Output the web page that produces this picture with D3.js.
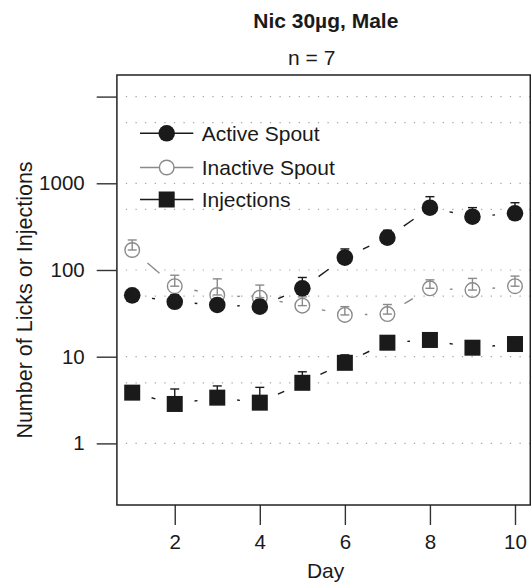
<!DOCTYPE html>
<html>
<head>
<meta charset="utf-8">
<script src="https://cdn.jsdelivr.net/npm/d3@7/dist/d3.min.js"></script>
<style>
  body { margin: 0; background: #fff; }
  text { font-family: "Liberation Sans", Arial, sans-serif; fill: #1a1a1a; }
</style>
</head>
<body>
<svg id="chart" width="531" height="585"></svg>
<script>
// data
var days = [1, 2, 3, 4, 5, 6, 7, 8, 9, 10];
var activeMean   = [51, 43, 39.5, 37.8, 61.5, 139, 236, 523, 412, 451];
var activeTop    = [null, 52, null, 45, 82, 175, 287, 701, 524, 597];
var inactiveMean = [170, 65, 51.5, 48, 38.8, 30.3, 31, 61.5, 58.7, 65];
var inactiveTop  = [222, 87, 79, 67, 49, 37.8, 40, 77, 80, 85];
var injMean      = [3.85, 2.85, 3.37, 2.95, 5.0, 8.5, 14.5, 15.6, 12.7, 14];
var injTop       = [null, 4.24, 4.6, 4.43, 6.7, 10.5, null, null, null, null];

var xTicks = [2, 4, 6, 8, 10];
var yTicks = [1, 10, 100, 1000, 10000];
var yTickLabels = ["1", "10", "100", "1000", ""];
var gridVals = [1, 5, 10, 50, 100, 500, 1000, 5000, 10000];
var legendNames = ["Active Spout", "Inactive Spout", "Injections"];

var black = "#1a1a1a", grey = "#8a8a8a";

var svg = d3.select("#chart");
// plot box (window.top is taken, so other names)
var boxL = 116.9, boxR = 530.3, boxT = 75, boxB = 505;

var x = d3.scaleLinear().domain([0.64, 10.36]).range([boxL, boxR]);
var y = d3.scaleLog().domain([Math.pow(10, -0.7105), Math.pow(10, 4.249)]).range([boxB, boxT]);

// dotted grid
svg.append("g").selectAll("line")
  .data(gridVals).enter().append("line")
  .attr("x1", boxL + 9).attr("x2", boxR)
  .attr("y1", function(d) { return y(d); })
  .attr("y2", function(d) { return y(d); })
  .attr("stroke", "#a0a0a0")
  .attr("stroke-width", 1.2)
  .attr("stroke-dasharray", "1.2,8.4");

// axes
var yAxis = d3.axisLeft(y).tickValues(yTicks)
  .tickFormat(function(d, i) { return yTickLabels[i]; })
  .tickSize(20).tickPadding(12);
var gy = svg.append("g").attr("transform", "translate(" + (boxL - 0.2) + ",0)").call(yAxis);
gy.select(".domain").remove();
gy.selectAll("line").attr("stroke", "#333").attr("stroke-width", 1.4);
gy.selectAll("text").attr("font-size", 20.5).attr("fill", black)
  .attr("font-family", "Liberation Sans, Arial, sans-serif");

var xAxis = d3.axisBottom(x).tickValues(xTicks).tickSize(20).tickPadding(9);
var gx = svg.append("g").attr("transform", "translate(0," + boxB + ")").call(xAxis);
gx.select(".domain").remove();
gx.selectAll("line").attr("stroke", "#333").attr("stroke-width", 1.4);
gx.selectAll("text").attr("font-size", 20.5).attr("fill", black)
  .attr("font-family", "Liberation Sans, Arial, sans-serif");

// box
svg.append("rect")
  .attr("x", boxL).attr("y", boxT)
  .attr("width", boxR - boxL).attr("height", boxB - boxT)
  .attr("fill", "none").attr("stroke", "#222").attr("stroke-width", 1.5);

// titles
svg.append("text").attr("x", 325.8).attr("y", 28.3).attr("text-anchor", "middle")
  .attr("font-size", 21).attr("font-weight", "bold").text("Nic 30\u00b5g, Male");
svg.append("text").attr("x", 311.7).attr("y", 65).attr("text-anchor", "middle")
  .attr("font-size", 21).text("n = 7");
svg.append("text").attr("x", (x(1) + x(10)) / 2 + 2).attr("y", 578)
  .attr("text-anchor", "middle").attr("font-size", 21).text("Day");
svg.append("text").attr("transform", "translate(31.5,300) rotate(-90)")
  .attr("text-anchor", "middle").attr("font-size", 21.5)
  .text("Number of Licks or Injections");

// R-style type "b" lines: segments with a gap round each point
var gap = 20;
function gappedLines(means, color) {
  var g = svg.append("g");
  for (var i = 0; i < days.length - 1; i++) {
    var x1 = x(days[i]), y1 = y(means[i]), x2 = x(days[i + 1]), y2 = y(means[i + 1]);
    var len = Math.sqrt((x2 - x1) * (x2 - x1) + (y2 - y1) * (y2 - y1));
    if (len <= 2 * gap) continue;
    var ux = (x2 - x1) / len, uy = (y2 - y1) / len;
    g.append("line")
      .attr("x1", x1 + ux * gap).attr("y1", y1 + uy * gap)
      .attr("x2", x2 - ux * gap).attr("y2", y2 - uy * gap)
      .attr("stroke", color).attr("stroke-width", 1.4);
  }
}

function errorBars(means, tops, color) {
  var g = svg.append("g");
  days.forEach(function(d, i) {
    if (tops[i] == null) return;
    var cx = x(d), cap = 4.5;
    g.append("line").attr("x1", cx).attr("x2", cx)
      .attr("y1", y(means[i])).attr("y2", y(tops[i]))
      .attr("stroke", color).attr("stroke-width", 1.4);
    [means[i], tops[i]].forEach(function(v) {
      g.append("line").attr("x1", cx - cap).attr("x2", cx + cap)
        .attr("y1", y(v)).attr("y2", y(v))
        .attr("stroke", color).attr("stroke-width", 1.4);
    });
  });
}

gappedLines(inactiveMean, grey);
gappedLines(activeMean, black);
gappedLines(injMean, black);

errorBars(inactiveMean, inactiveTop, grey);
svg.append("g").selectAll("circle")
  .data(days).enter().append("circle")
  .attr("cx", function(d) { return x(d); })
  .attr("cy", function(d, i) { return y(inactiveMean[i]); })
  .attr("r", 7.3).attr("fill", "none").attr("stroke", grey).attr("stroke-width", 1.4);

errorBars(activeMean, activeTop, black);
svg.append("g").selectAll("circle")
  .data(days).enter().append("circle")
  .attr("cx", function(d) { return x(d); })
  .attr("cy", function(d, i) { return y(activeMean[i]); })
  .attr("r", 8.3).attr("fill", black);

errorBars(injMean, injTop, black);
svg.append("g").selectAll("rect")
  .data(days).enter().append("rect")
  .attr("x", function(d) { return x(d) - 8; })
  .attr("y", function(d, i) { return y(injMean[i]) - 8; })
  .attr("width", 16).attr("height", 16).attr("fill", black);

// legend
var legY = [133.3, 167.5, 199.5];
var leg = svg.append("g");
legendNames.forEach(function(name, i) {
  var c = i == 1 ? grey : black;
  leg.append("line").attr("x1", 140).attr("x2", 193.3)
    .attr("y1", legY[i]).attr("y2", legY[i])
    .attr("stroke", c).attr("stroke-width", 1.4);
  if (i == 0) {
    leg.append("circle").attr("cx", 166.7).attr("cy", legY[i]).attr("r", 8.3).attr("fill", black);
  } else if (i == 1) {
    leg.append("circle").attr("cx", 166.7).attr("cy", legY[i]).attr("r", 7.3)
      .attr("fill", "#fff").attr("stroke", grey).attr("stroke-width", 1.4);
  } else {
    leg.append("rect").attr("x", 166.7 - 8).attr("y", legY[i] - 8)
      .attr("width", 16).attr("height", 16).attr("fill", black);
  }
  leg.append("text").attr("x", 201.7).attr("y", legY[i]).attr("dy", "0.36em")
    .attr("font-size", 21).text(name);
});
</script>
</body>
</html>
